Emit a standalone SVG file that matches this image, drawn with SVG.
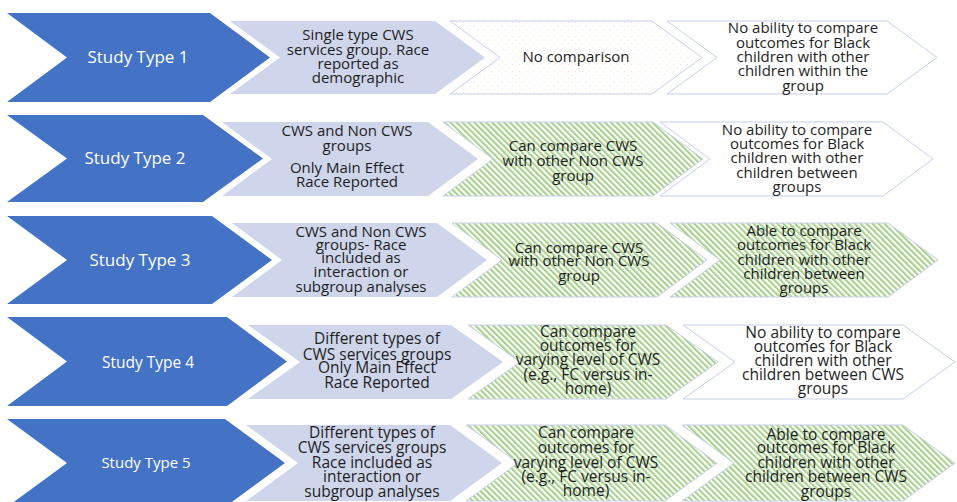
<svg xmlns="http://www.w3.org/2000/svg" width="957" height="502" viewBox="0 0 957 502">
<defs>
<pattern id="dots" width="7" height="7" patternUnits="userSpaceOnUse">
<rect width="7" height="7" fill="#ffffff"/>
<circle cx="1.5" cy="1.5" r="0.5" fill="#f4b183" opacity="0.55"/>
<circle cx="5" cy="5" r="0.5" fill="#f4b183" opacity="0.55"/>
</pattern>
<pattern id="stripes" width="4.2" height="4.2" patternUnits="userSpaceOnUse" patternTransform="rotate(-45)">
<rect width="4.2" height="4.2" fill="#ffffff"/>
<rect width="2.1" height="4.2" fill="#a9d18e"/>
</pattern>
</defs>
<style>
.blue{fill:#4472c4;stroke:none}
.gray{fill:#cfd5ea;stroke:none}
.dot{fill:url(#dots);stroke:#c7cfea;stroke-width:1}
.wht{fill:#ffffff;stroke:#c7cfea;stroke-width:1}
.grn{fill:url(#stripes);stroke:#c7cfea;stroke-width:1}
text{font-family:"Open Sans","Liberation Sans",sans-serif;font-size:15px;fill:#1e1e1e;text-anchor:middle}
.lbl{fill:#ffffff;font-size:17px}
.big text{font-size:15.5px}
</style>
<rect width="957" height="502" fill="#ffffff"/>

<g id="row1">
<g id="st1"><polygon class="blue" points="7,13 210,13 270,57.5 210,102 7,102 67,57.5"/><text class="lbl" x="138" y="63">Study Type 1</text></g>
<g id="r1c2"><polygon class="gray" points="230,21 435,21 485,57.5 435,94 230,94 280,57.5"/>
<text x="358"><tspan x="358" y="40">Single type CWS</tspan><tspan x="358" y="55">services group. Race</tspan><tspan x="358" y="69">reported as</tspan><tspan x="358" y="83">demographic</tspan></text></g>
<g id="r1c3"><polygon class="dot" points="450,21 652,21 702,57.5 652,94 450,94 500,57.5"/><text x="576" y="62">No comparison</text></g>
<g id="r1c4"><polygon class="wht" points="667,21 887,21 937,57.5 887,94 667,94 717,57.5"/>
<text><tspan x="803" y="33">No ability to compare</tspan><tspan x="803" y="47.5">outcomes for Black</tspan><tspan x="803" y="61.5">children with other</tspan><tspan x="803" y="76">children within the</tspan><tspan x="803" y="91">group</tspan></text></g>
</g>

<g id="row2">
<g id="st2"><polygon class="blue" points="7,115 203,115 263,158.5 203,202 7,202 67,158.5"/><text class="lbl" x="135" y="164">Study Type 2</text></g>
<g id="r2c2"><polygon class="gray" points="222,122 428,122 478,159 428,196 222,196 272,159"/>
<text><tspan x="347" y="136">CWS and Non CWS</tspan><tspan x="347" y="151">groups</tspan><tspan x="347" y="173">Only Main Effect</tspan><tspan x="347" y="187">Race Reported</tspan></text></g>
<g id="r2c3"><polygon class="grn" points="443,122 653,122 703,159 653,196 443,196 493,159"/>
<text><tspan x="573" y="151">Can compare CWS</tspan><tspan x="573" y="166">with other Non CWS</tspan><tspan x="573" y="181">group</tspan></text></g>
<g id="r2c4"><polygon class="wht" points="660,122 883,122 933,159 883,196 660,196 710,159"/>
<text><tspan x="797" y="135">No ability to compare</tspan><tspan x="797" y="149">outcomes for Black</tspan><tspan x="797" y="163">children with other</tspan><tspan x="797" y="178">children between</tspan><tspan x="797" y="192">groups</tspan></text></g>
</g>

<g id="row3">
<g id="st3"><polygon class="blue" points="7,216 212,216 272,260 212,304 7,304 67,260"/><text class="lbl" x="140" y="266">Study Type 3</text></g>
<g id="r3c2"><polygon class="gray" points="232,223 437,223 487,260 437,297 232,297 282,260"/>
<text><tspan x="361" y="237">CWS and Non CWS</tspan><tspan x="361" y="250">groups- Race</tspan><tspan x="361" y="263">included as</tspan><tspan x="361" y="277">interaction or</tspan><tspan x="361" y="292">subgroup analyses</tspan></text></g>
<g id="r3c3"><polygon class="grn" points="452,223 657,223 707,260 657,297 452,297 502,260"/>
<text><tspan x="579" y="253">Can compare CWS</tspan><tspan x="579" y="266">with other Non CWS</tspan><tspan x="579" y="281">group</tspan></text></g>
<g id="r3c4"><polygon class="grn" points="670,223 888,223 938,260 888,297 670,297 720,260"/>
<text><tspan x="804" y="236">Able to compare</tspan><tspan x="804" y="250">outcomes for Black</tspan><tspan x="804" y="265">children with other</tspan><tspan x="804" y="279">children between</tspan><tspan x="804" y="293">groups</tspan></text></g>
</g>

<g id="row4" class="big">
<g id="st4"><polygon class="blue" points="7,317 227,317 287,361.5 227,406 7,406 67,361.5"/><text class="lbl" x="148" y="367.5">Study Type 4</text></g>
<g id="r4c2"><polygon class="gray" points="248,325 451,325 503,362 451,399 248,399 300,362"/>
<text><tspan x="377" y="344">Different types of</tspan><tspan x="377" y="360">CWS services groups</tspan><tspan x="377" y="373">Only Main Effect</tspan><tspan x="377" y="388">Race Reported</tspan></text></g>
<g id="r4c3"><polygon class="grn" points="468,325 666,325 718,362 666,399 468,399 520,362"/>
<text><tspan x="588" y="337">Can compare</tspan><tspan x="588" y="351">outcomes for</tspan><tspan x="588" y="365">varying level of CWS</tspan><tspan x="588" y="380">(e.g., FC versus in-</tspan><tspan x="588" y="394">home)</tspan></text></g>
<g id="r4c4"><polygon class="wht" points="683,325 903,325 955,362 903,399 683,399 735,362"/>
<text><tspan x="823" y="338">No ability to compare</tspan><tspan x="823" y="352">outcomes for Black</tspan><tspan x="823" y="366">children with other</tspan><tspan x="823" y="380">children between CWS</tspan><tspan x="823" y="394">groups</tspan></text></g>
</g>

<g id="row5" class="big">
<g id="st5"><polygon class="blue" points="7,419 225,419 285,463 225,507 7,507 67,463"/><text class="lbl" x="146" y="468" style="font-size:15px">Study Type 5</text></g>
<g id="r5c2"><polygon class="gray" points="246,425 450,425 502,463 450,501 246,501 298,463"/>
<text><tspan x="372" y="438">Different types of</tspan><tspan x="372" y="453">CWS services groups</tspan><tspan x="372" y="468">Race included as</tspan><tspan x="372" y="482">interaction or</tspan><tspan x="372" y="497">subgroup analyses</tspan></text></g>
<g id="r5c3"><polygon class="grn" points="466,425 665,425 717,463 665,501 466,501 518,463"/>
<text><tspan x="586" y="438">Can compare</tspan><tspan x="586" y="453">outcomes for</tspan><tspan x="586" y="468">varying level of CWS</tspan><tspan x="586" y="482">(e.g., FC versus in-</tspan><tspan x="586" y="496">home)</tspan></text></g>
<g id="r5c4"><polygon class="grn" points="682,425 903,425 955,463 903,501 682,501 734,463"/>
<text><tspan x="826" y="440">Able to compare</tspan><tspan x="826" y="453">outcomes for Black</tspan><tspan x="826" y="468">children with other</tspan><tspan x="826" y="482">children between CWS</tspan><tspan x="826" y="497">groups</tspan></text></g>
</g>
</svg>
